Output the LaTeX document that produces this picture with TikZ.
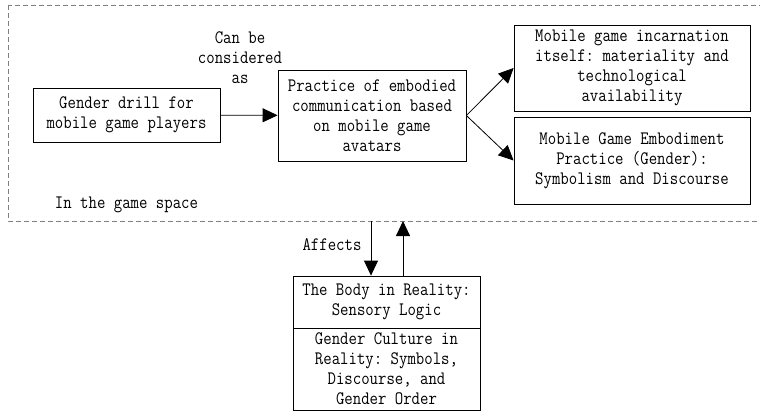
\documentclass[tikz,border=0pt]{standalone}
\usepackage{fontspec}
\setmonofont[FakeStretch=0.86]{Latin Modern Mono}
\usetikzlibrary{arrows.meta}

\tikzset{
  box/.style={draw, line width=0.8pt, inner sep=0pt, align=center, font=\ttfamily\fontsize{19}{20}\selectfont},
  lbl/.style={inner sep=0pt, align=center, font=\ttfamily\fontsize{19}{20}\selectfont},
  arr/.style={line width=0.8pt, -{Triangle[length=15pt,width=14pt]}}
}

\begin{document}
\begin{tikzpicture}[x=1pt,y=-1pt]

\useasboundingbox (0,0) rectangle (760,412);

\draw[gray, line width=0.8pt, dash pattern=on 5pt off 3pt] (8,5) rectangle (770,221);

\node[box, minimum width=187pt, minimum height=54pt] (drill) at (126.5,115) {Gender drill for\\mobile game players};
\node[box, minimum width=188pt, minimum height=91pt] (practice) at (372,115.5) {Practice of embodied\\communication based\\on mobile game\\avatars};
\node[box, minimum width=236pt, minimum height=86pt] (incarnation) at (632,68) {Mobile game incarnation\\itself: materiality and\\technological\\availability};
\node[box, minimum width=236pt, minimum height=87pt] (embodiment) at (632,160.5) {Mobile Game Embodiment\\Practice (Gender):\\Symbolism and Discourse};

\node[lbl] (considered) at (240,58) {Can be\\considered\\as};
\node[lbl] (space) at (126.5,205) {In the game space};

\node[box, minimum width=187pt, minimum height=52pt] (body) at (386.5,302) {The Body in Reality:\\Sensory Logic};
\node[box, minimum width=187pt, minimum height=82pt] (culture) at (386.5,369) {Gender Culture in\\Reality: Symbols,\\Discourse, and\\Gender Order};

\node[lbl] (affects) at (332,245) {Affects};

\coordinate (down) at (371,221);
\coordinate (up) at (403,221);

\draw[arr] (drill) -- (practice);
\draw[arr] (practice.east) -- (incarnation.west);
\draw[arr] (practice.east) -- (embodiment.west);
\draw[arr] (down) -- (down |- body.north);
\draw[arr] (up |- body.north) -- (up);

\end{tikzpicture}
\end{document}
